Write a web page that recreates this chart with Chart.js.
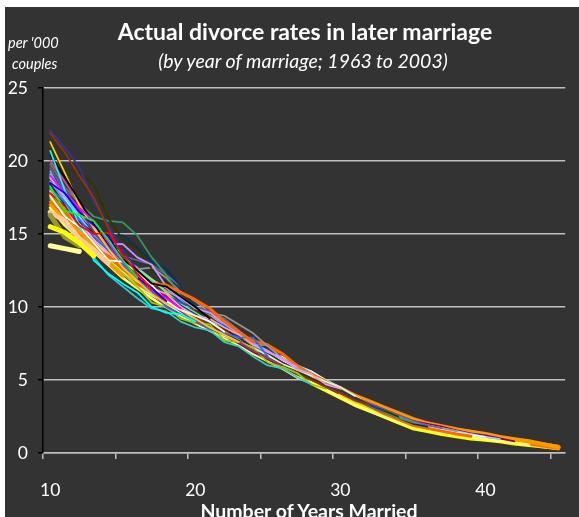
<!DOCTYPE html>
<html>
<head>
<meta charset="utf-8">
<script src="https://cdn.jsdelivr.net/npm/chart.js@4.4.1/dist/chart.umd.min.js"></script>
<style>
  html, body { margin: 0; padding: 0; background: #ffffff; }
  #panel { position: absolute; left: 5px; top: 7px; width: 574px; height: 510px; background: #333333; overflow: hidden; }
  #panel canvas { position: absolute; left: 0; top: 0; }
  .txt { position: absolute; color: #ffffff; font-family: Lato, "Open Sans", sans-serif; white-space: nowrap; }
  #title { left: 0; width: 600px; text-align: center; top: 10px; font-size: 23px; font-weight: bold; }
  #subtitle { left: 0; width: 596px; text-align: center; top: 42px; font-size: 19.5px; font-style: italic; }
  #yunit1 { left: 3px; top: 27px; font-size: 14.5px; font-style: italic; }
  #yunit2 { left: 7px; top: 48px; font-size: 14.5px; font-style: italic; }
  #xtitle { left: 0; width: 608px; text-align: center; top: 492px; font-size: 19.5px; font-weight: bold; }
</style>
</head>
<body>
<div id="panel">
  <canvas id="c" width="574" height="510"></canvas>
  <div class="txt" id="title">Actual divorce rates in later marriage</div>
  <div class="txt" id="subtitle">(by year of marriage; 1963 to 2003)</div>
  <div class="txt" id="yunit1">per '000</div>
  <div class="txt" id="yunit2">couples</div>
  <div class="txt" id="xtitle">Number of Years Married</div>
</div>
<script>
// Years married (category axis)
const years = [10,11,12,13,14,15,16,17,18,19,20,21,22,23,24,25,26,27,28,29,30,31,32,33,34,35,36,37,38,39,40,41,42,43,44,45];
const yTicks = [0,5,10,15,20,25];

// Divorce rates per '000 couples, one array per marriage cohort (values from its first year married)
const s01 = [14.2,14.0,13.8];
const s02 = [15.5,15.1,14.4,13.5];
const s03 = [16.3,14.8,14.2];
const s04 = [16.5,15.9,14.7,13.9,13.0];
const s05 = [17.0,16.0,15.2,14.1,13.0,12.1];
const s06 = [18.2,16.6,16.3,15.9,14.6,13.2,12.0];
const s07 = [17.8,16.9,15.6,15.0,15.1,13.6,12.3,11.2];
const s08 = [18.5,17.8,16.5,15.6,14.9,13.2,12.0,11.3,10.4];
const s09 = [19.0,17.8,16.8,15.9,14.4,13.1,12.1,11.2,10.6,9.9];
const s10 = [20.7,18.0,15.6,13.2,12.3,11.6,11.0,10.0,9.6,9.5,9.0];
const s11 = [20.4,18.9,17.3,15.7,14.3,13.3,12.5,11.6,11.4,10.7,10.0,9.2];
const s12 = [17.6,16.2,15.5,14.4,13.2,13.1,12.4,11.5,10.4,9.8,9.4,9.0,8.3];
const s13 = [21.3,19.2,17.0,15.4,14.0,12.7,11.8,10.9,10.2,9.8,9.2,8.6,8.1,7.6];
const s14 = [17.7,16.6,15.1,14.0,13.5,12.6,11.9,11.6,11.5,11.0,10.5,9.9,9.0,8.3,7.6];
const s15 = [18.1,17.2,16.0,14.8,13.9,12.9,11.9,11.0,10.0,9.5,9.1,8.5,8.2,7.9,7.9,6.6];
const s16 = [19.6,18.1,16.7,15.2,14.0,12.6,11.9,11.1,10.4,9.7,9.0,8.5,8.1,7.6,7.0,6.5,6.0];
const s17 = [18.8,17.5,16.4,15.5,14.3,14.3,13.4,12.9,11.4,10.6,9.9,9.6,8.9,8.2,7.5,7.0,6.4,5.9];
const s18 = [19.3,17.2,15.4,13.4,12.2,11.4,10.6,9.9,9.7,9.0,8.6,8.4,7.6,7.3,6.6,6.0,5.8,5.2,4.7];
const s19 = [17.4,16.3,15.3,14.3,13.2,12.3,11.4,10.3,10.0,9.2,8.9,8.8,7.7,7.6,7.2,6.2,5.9,5.5,4.7,4.4];
const s20 = [18.0,16.7,15.7,14.6,13.7,12.8,12.1,11.3,10.9,10.0,9.4,9.2,8.6,8.1,7.4,6.9,6.5,5.7,5.4,4.7,4.4];
const s21 = [17.9,16.8,15.3,14.2,13.2,12.4,11.4,10.8,10.2,9.6,9.1,8.5,8.0,7.6,7.2,6.7,6.1,5.7,5.3,4.9,4.5,3.9];
const s22 = [21.9,20.6,19.0,17.5,15.4,13.5,12.3,11.5,10.7,10.0,9.3,8.7,8.2,7.6,7.0,6.5,6.0,5.4,5.0,4.5,4.1,3.6,3.3];
const s23 = [22.1,20.9,19.6,17.2,15.6,13.9,12.5,11.6,10.8,10.1,9.5,8.8,8.2,7.7,7.1,6.5,6.0,5.5,5.0,4.6,4.2,3.7,3.3,2.9];
const s24 = [20.8,19.4,19.2,18.4,16.1,14.6,14.0,12.6,11.7,10.6,9.8,9.3,8.5,7.9,7.2,6.7,6.2,5.6,5.1,4.7,4.3,3.8,3.3,2.9,2.5];
const s25 = [19.8,18.2,17.1,16.2,15.9,15.8,14.9,13.4,12.2,10.7,10.0,9.2,8.6,7.9,7.3,6.7,6.1,5.6,5.1,4.6,4.1,3.6,3.2,2.8,2.4,2.1];
const s26 = [18.4,17.0,15.8,15.1,14.9,14.9,14.1,13.1,12.6,11.4,10.0,9.3,8.5,8.0,7.4,6.8,6.2,5.7,5.1,4.6,4.1,3.7,3.2,2.8,2.4,2.0,1.8];
const s27 = [19.5,18.0,16.6,15.3,14.3,13.5,13.2,12.9,12.2,11.4,10.0,9.7,9.2,8.4,7.5,6.9,6.2,5.6,5.1,4.7,4.3,3.8,3.4,3.0,2.6,2.2,1.9,1.7];
const s28 = [18.6,17.2,15.9,14.9,13.9,13.0,12.6,12.7,12.0,11.0,10.4,9.6,9.4,8.8,8.2,7.3,6.5,5.9,5.4,4.8,4.3,3.8,3.4,2.9,2.5,2.1,1.9,1.7,1.5];
const s29 = [17.2,16.0,15.0,14.0,13.1,12.3,11.5,11.0,10.3,9.8,9.3,8.8,8.4,7.9,7.7,7.4,6.8,6.0,5.4,4.9,4.4,3.8,3.2,2.7,2.3,1.9,1.7,1.5,1.3,1.15];
const s30 = [18.9,17.4,16.0,14.6,13.6,12.6,11.8,11.0,10.4,9.8,9.3,8.8,8.3,7.8,7.5,6.8,6.6,6.0,5.6,5.0,4.5,3.9,3.3,2.9,2.5,2.1,1.8,1.6,1.4,1.25,1.1];
const s31 = [19.1,17.6,16.2,14.9,13.7,12.8,12.0,11.2,10.5,9.9,9.3,8.7,8.2,7.7,7.1,6.5,6.0,5.5,5.0,4.6,4.2,3.7,3.3,2.9,2.5,2.1,1.9,1.7,1.5,1.3,1.1,0.95];
const s32 = [17.3,16.1,15.1,14.1,13.1,12.2,11.4,10.8,10.1,9.5,9.0,8.5,8.0,7.5,6.9,6.4,5.9,5.4,5.0,4.6,4.2,3.8,3.4,3.0,2.6,2.2,2.0,1.8,1.55,1.35,1.2,1.0,0.8];
const s33 = [16.8,15.6,14.7,13.8,12.9,12.0,11.3,10.6,10.0,9.4,8.9,8.4,7.9,7.4,6.8,6.3,5.8,5.2,4.8,4.3,3.8,3.3,2.9,2.5,2.1,1.8,1.6,1.4,1.25,1.1,0.95,0.8,0.7,0.55];
const s34 = [10.4,9.8,9.3,8.7,8.2,7.7,7.1,6.5,6.0,5.5,5.1,4.7,4.3,3.9,3.5,3.1,2.7,2.3,2.0,1.8,1.6,1.45,1.3,1.1,0.95,0.8,0.6,0.4];
const s35 = [6.6,6.1,5.6,5.2,4.8,4.4,3.9,3.5,3.1,2.7,2.3,2.0,1.8,1.6,1.4,1.2,1.0,0.85,0.7,0.55,0.4];
const s36 = [4.0,3.6,3.1,2.7,2.3,2.0,1.8,1.6,1.4,1.25,1.1,0.95,0.8,0.65,0.5,0.35];
const s37 = [2.0,1.8,1.6,1.4,1.25,1.1,1.0,0.85,0.7,0.55,0.4];
const s38 = [1.5,1.3,1.15,1.0,0.85,0.7,0.55,0.4];
const s39 = [4.8,4.3,3.8,3.3,2.9,2.5,2.1,1.7,1.5,1.3,1.15,1.0,0.9,0.8,0.65,0.55,0.45,0.35];
const s40 = [4.0,3.5,3.0,2.6,2.2,1.8,1.6,1.45,1.3,1.15,1.0,0.85];
const s41 = [7.3,6.9,6.3,5.9,5.3,4.9,4.4,4.0,3.5,3.0,2.5,2.1,1.8,1.6,1.4,1.2,1.0];
const s42 = [9.8,9.4,9.0,8.3,7.4,7.4,6.4,5.8,5.3,4.8,4.3,3.8,3.3,2.9,2.5,2.2,1.9];
const s43 = [19.2,17.9,16.2,15.0,14.1,13.2,12.2,11.4,10.8,10.3,9.9,9.2,8.7,8.0,7.6,7.0,6.3,5.8,5.4,4.9,4.5,4.0,3.6];
const s44 = [20.0,18.6,17.0,15.2,14.0,13.0,12.0,11.4,10.6,10.0,9.5,8.8];
const s45 = [18.3,16.4,16.5,15.8,14.6,13.5,12.6,11.9,11.0,10.2,9.6,9.0,8.6,8.0,7.5,6.8,6.2,5.6];
const s46 = [17.5,16.4,15.8,14.6,13.4,12.4,11.7,11.2,10.4,9.6,9.2,8.8,8.2,7.6,7.1,6.5,6.1,5.4,4.9,4.6,4.1,3.7,3.4,3.0,2.6,2.3,2.0,1.8,1.6,1.4];
const s47 = [19.0,17.6,16.4,15.3,14.2,13.4,12.7,11.9,11.3,10.5,9.8,9.4,8.8,8.1,7.4,6.9,6.4,5.9,5.5];
const s48 = [18.0,17.0,15.9,14.9,14.0,13.4,12.6,11.8,11.1,10.6];

const seriesValues = [s01,s02,s03,s04,s05,s06,s07,s08,s09,s10,s11,s12,s13,s14,s15,s16,s17,s18,s19,s20,s21,s22,s23,s24,
                      s25,s26,s27,s28,s29,s30,s31,s32,s33,s34,s35,s36,s37,s38,s39,s40,s41,s42,s43,s44,s45,s46,s47,s48];
// First year married observed for each series
const seriesStart = [10,10,10,10,10,10,10,10,10,10,10,10,10,10,10,10,10,10,10,10,10,10,10,10,
                     10,10,10,10,10,10,10,10,10,18,25,30,35,38,28,30,24,20,10,10,10,10,10,10];

// Styles (kept apart from the data)
const seriesColors = ['#FFFF99','#FFFF00','#999933','#FFCC99','#FF9900','#00FF00','#FF0000','#0000FF','#FF00FF','#00FFFF','#000000',
                      '#FFFFFF','#FFCC00','#FF6600','#3366FF','#993366','#CC99FF','#33CCCC','#99CC00','#FF99CC','#CCFFCC',
                      '#993300','#333399','#333300','#339966','#003366','#666699','#969696','#FF6600','#CCFFFF','#99CCFF',
                      '#800080','#FFFF66','#FF9900','#FF6600','#FFCC00','#99CC00','#FF9900','#FFFF00','#00CCFF','#FFFFFF','#CC9966',
                      '#0066CC','#FF3399','#66FF66','#CCCC00','#9999FF','#FF8080'];
const seriesWidths = [5,5,5,5,3,1.75,1.75,1.75,1.75,1.75,1.75,
                      1.75,1.75,3,1.75,1.75,1.75,1.75,1.75,1.75,1.75,
                      1.75,1.75,1.75,1.75,1.75,1.75,1.75,3,1.75,1.75,
                      1.75,3,4,5,5,4,5,4,1.75,1.5,1.75,
                      1.75,1.75,1.75,1.75,1.75,1.75];

const datasets = seriesValues.map((vals, k) => ({
  data: years.map(y => {
    const j = y - seriesStart[k];
    return (j >= 0 && j < vals.length) ? vals[j] : null;
  }),
  borderColor: seriesColors[k],
  backgroundColor: seriesColors[k],
  borderWidth: seriesWidths[k],
  pointRadius: 0,
  tension: 0,
  fill: false,
  spanGaps: false,
  borderJoinStyle: 'round',
  borderCapStyle: 'round'
}));

new Chart(document.getElementById('c'), {
  type: 'line',
  data: { labels: years, datasets: datasets },
  options: {
    responsive: false,
    animation: false,
    layout: { padding: { top: 81, right: 3, bottom: 0, left: 0 } },
    plugins: { legend: { display: false }, tooltip: { enabled: false }, title: { display: false } },
    scales: {
      x: {
        type: 'category',
        offset: true,
        afterFit: s => { s.height = 64; },
        grid: {
          offset: true,
          drawOnChartArea: false,
          tickLength: 6,
          lineWidth: 1.5,
          color: ctx => (ctx.index % 5 === 0 ? '#bfbfbf' : 'rgba(0,0,0,0)')
        },
        border: { color: '#bfbfbf', width: 1.5 },
        ticks: {
          autoSkip: false,
          maxRotation: 0,
          padding: 21,
          color: '#ffffff',
          font: { family: 'Lato', size: 17.5 },
          callback: (v, i) => (years[i] % 10 === 0 ? String(years[i]) : '')
        }
      },
      y: {
        min: 0,
        max: 25,
        afterFit: s => { s.width = 38; },
        afterBuildTicks: s => { s.ticks = yTicks.map(v => ({ value: v })); },
        grid: { color: '#bfbfbf', lineWidth: 1.5, tickLength: 5, tickColor: '#000000' },
        border: { color: '#000000', width: 1.5 },
        ticks: {
          padding: 10,
          color: '#ffffff',
          font: { family: 'Lato', size: 17.5 }
        }
      }
    }
  }
});
</script>
</body>
</html>
